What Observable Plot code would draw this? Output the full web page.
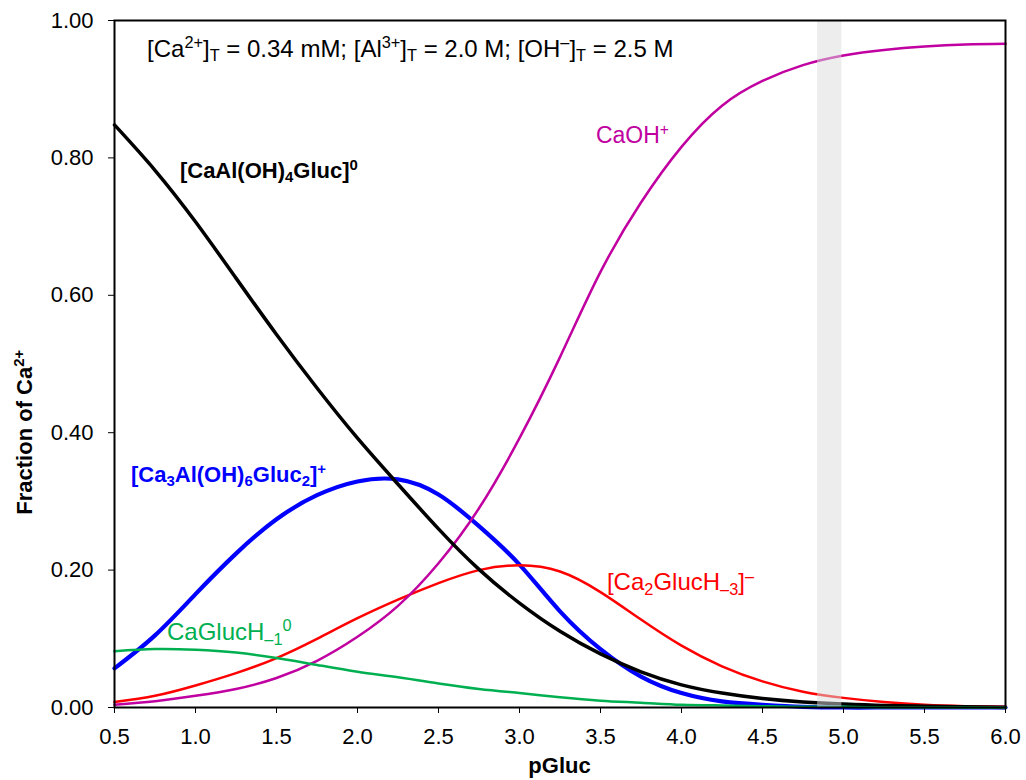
<!DOCTYPE html>
<html><head><meta charset="utf-8">
<script src="https://cdn.jsdelivr.net/npm/d3@7"></script>
<script src="https://cdn.jsdelivr.net/npm/@observablehq/plot@0.6"></script>
<style>html,body{margin:0;padding:0;background:#fff;}</style>
</head><body><div id="chart"></div>
<script>
// ---- data ----
const pGluc = [0.5,0.75,1.0,1.25,1.5,1.75,2.0,2.25,2.5,2.75,3.0,3.25,3.5,3.75,4.0,4.25,4.5,4.75,5.0,5.25,5.5,5.75,6.0];
const caAlOH4Gluc = [0.848,0.782,0.707,0.625,0.543,0.465,0.392,0.325,0.260,0.201,0.152,0.111,0.078,0.052,0.033,0.021,0.013,0.008,0.005,0.003,0.002,0.001,0.000];
const ca3AlOH6Gluc2 = [0.057,0.105,0.165,0.224,0.274,0.309,0.329,0.332,0.310,0.264,0.208,0.140,0.085,0.045,0.021,0.009,0.004,0.001,0.000,0,0,0,0];
const ca2GlucH3 = [0.008,0.017,0.032,0.050,0.072,0.100,0.130,0.157,0.181,0.200,0.207,0.198,0.168,0.128,0.090,0.060,0.038,0.023,0.014,0.008,0.004,0.002,0.001];
const caGlucH1 = [0.082,0.085,0.084,0.080,0.072,0.062,0.052,0.044,0.035,0.027,0.021,0.015,0.010,0.007,0.004,0.003,0.002,0.001,0.001,0,0,0,0];
const caOH = [0.004,0.009,0.017,0.027,0.043,0.068,0.103,0.148,0.210,0.290,0.392,0.510,0.634,0.735,0.816,0.876,0.912,0.935,0.949,0.957,0.962,0.965,0.966];
const xTicks = [0.5,1.0,1.5,2.0,2.5,3.0,3.5,4.0,4.5,5.0,5.5,6.0];
const yTicks = [0,0.2,0.4,0.6,0.8,1.0];
const band = [4.84, 4.99];

const FONT = "'Liberation Sans', Arial, Helvetica, sans-serif";

// rich text helper (sub / superscripts)
function rich(parts, px, py, o) {
  const t = d3.create("svg:text").attr("x", px).attr("y", py)
    .attr("fill", o.fill).attr("font-size", o.size).attr("font-weight", o.weight || "normal")
    .attr("text-anchor", o.anchor || "start").attr("font-family", FONT);
  if (o.rotate) t.attr("transform", `rotate(${o.rotate},${px},${py})`);
  let cur = 0;
  for (const [s, k] of parts) {
    const off = k === "sup" ? -0.36 * o.size : k === "sub" ? 0.2 * o.size : 0;
    t.append("tspan").attr("dy", off - cur).attr("font-size", k ? o.size * 0.68 : o.size).text(s);
    cur = off;
  }
  return t.node();
}
function label(parts, x, y, o) {
  return (index, scales) => rich(parts, scales.x(x), scales.y(y), o);
}

const series = [
  {values: ca3AlOH6Gluc2, stroke: "#0000FF", width: 4.2},
  {values: ca2GlucH3, stroke: "#FF0000", width: 2.5},
  {values: caOH, stroke: "#C000A0", width: 2.5},
  {values: caAlOH4Gluc, stroke: "#000000", width: 3.5},
  {values: caGlucH1, stroke: "#00B050", width: 2.5}
];

const chart = Plot.plot({
  width: 1026, height: 780,
  marginLeft: 114, marginRight: 21, marginTop: 20, marginBottom: 73,
  x: {domain: [0.5, 6.0]},
  y: {domain: [0, 1]},
  style: {fontFamily: FONT, fontSize: "22px", color: "#000", background: "#fff"},
  marks: [
    ...series.map(s => Plot.line(pGluc.map((p, i) => ({p, v: s.values[i]})), {
      x: "p", y: "v", stroke: s.stroke, strokeWidth: s.width, curve: "natural"
    })),
    Plot.rect([{x1: band[0], x2: band[1], y1: 0, y2: 1}], {x1: "x1", x2: "x2", y1: "y1", y2: "y2", fill: "#dcdcdc", fillOpacity: 0.5}),
    Plot.frame({stroke: "#000", strokeWidth: 2}),
    Plot.axisX({ticks: xTicks, tickFormat: d => d.toFixed(1), tickSize: 6, tickPadding: 15, label: null, fontSize: 22}),
    Plot.axisY({ticks: yTicks, tickFormat: d => d.toFixed(2), tickSize: 6, tickPadding: 15, label: null, fontSize: 22}),
    label([["[Ca",""],["2+","sup"],["]",""],["T","sub"],[" = 0.34 mM; [Al",""],["3+","sup"],["]",""],["T","sub"],[" = 2.0 M; [OH",""],["\u2013","sup"],["]",""],["T","sub"],[" = 2.5 M",""]],
      0.704, 0.9466, {fill: "#000", size: 24}),
    label([["[CaAl(OH)",""],["4","sub"],["Gluc]",""],["0","sup"]], 0.907, 0.770, {fill: "#000", size: 22, weight: "bold"}),
    label([["CaOH",""],["+","sup"]], 3.475, 0.821, {fill: "#C000A0", size: 23}),
    label([["[Ca",""],["3","sub"],["Al(OH)",""],["6","sub"],["Gluc",""],["2","sub"],["]",""],["+","sup"]], 0.605, 0.3275, {fill: "#0000FF", size: 22, weight: "bold"}),
    label([["CaGlucH",""],["\u20131","sub"],["0","sup"]], 0.827, 0.0975, {fill: "#00B050", size: 24}),
    label([["[Ca",""],["2","sub"],["GlucH",""],["\u20133","sub"],["]",""],["\u2013","sup"]], 3.543, 0.170, {fill: "#FF0000", size: 24}),
    (index, scales, values, dims) => rich([["pGluc",""]], (dims.marginLeft + dims.width - dims.marginRight) / 2, dims.height - 7, {fill: "#000", size: 22, weight: "bold", anchor: "middle"}),
    (index, scales, values, dims) => rich([["Fraction of Ca",""],["2+","sup"]], 32, scales.y(0.40), {fill: "#000", size: 22, weight: "bold", anchor: "middle", rotate: -90})
  ]
});
document.getElementById("chart").appendChild(chart);
</script>
</body></html>
